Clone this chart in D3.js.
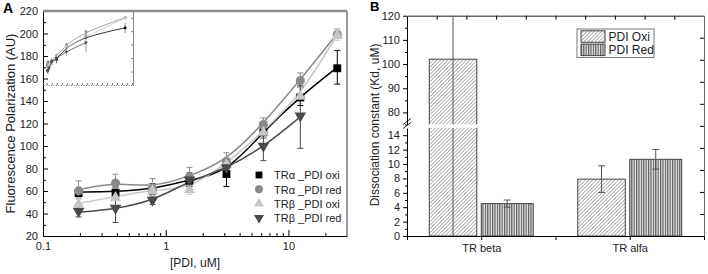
<!DOCTYPE html>
<html>
<head>
<meta charset="utf-8">
<script src="https://cdn.jsdelivr.net/npm/d3@7"></script>
<style>
  body { margin: 0; background: #fff; }
  svg { font-family: "Liberation Sans", Arial, sans-serif; }
  .tick text { font-size: 11px; fill: #222; }
</style>
</head>
<body>
<div id="chart"></div>
<script>
// Panel A: fluorescence polarization vs [PDI]
const conc = [0.195, 0.39, 0.78, 1.56, 3.125, 6.25, 12.5, 25];
const seriesNames = ["TR\u03b1 _PDI oxi", "TR\u03b1 _PDI red", "TR\u03b2 _PDI oxi", "TR\u03b2 _PDI red"];
const alphaOxi = [59, 59.5, 61.5, 70, 76, 113, 144, 170];
const alphaOxiErr = [3, 4, 5, 6, 12, 6, 8, 15];
const alphaRed = [61, 68, 63, 73, 87, 120, 159, 200];
const alphaRedErr = [8, 7, 8, 8, 7, 5, 6, 4];
const betaOxi = [49, 55, 61, 62, 84, 113, 145, 199];
const betaOxiErr = [5, 10, 5, 5, 6, 6, 7, 5];
const betaRed = [41, 44, 51, 69, 80, 99, 126];
const betaRedErr = [4, 12, 3, 5, 6, 12, 28];
const yTicksA = [20, 40, 60, 80, 100, 120, 140, 160, 180, 200, 220];
const xTicksA = [0.1, 1, 10];

// Panel B: dissociation constants
const groups = ["TR beta", "TR alfa"];
const kdOxi = [102, 7.9];
const kdOxiErr = [105, 1.85];
const kdRed = [4.5, 10.65];
const kdRedErr = [0.5, 1.37];
const barNames = ["PDI Oxi", "PDI Red"];

const svg = d3.select("#chart").append("svg")
  .attr("width", 708).attr("height", 274);

const defs = svg.append("defs");
const hatch = defs.append("pattern").attr("id", "hatch")
  .attr("patternUnits", "userSpaceOnUse").attr("width", 2.6).attr("height", 2.6)
  .attr("patternTransform", "rotate(45)");
hatch.append("rect").attr("width", 2.6).attr("height", 2.6).attr("fill", "#fff");
hatch.append("line").attr("x1", 0).attr("y1", 0).attr("x2", 0).attr("y2", 2.6)
  .attr("stroke", "#555").attr("stroke-width", 0.9);
const vert = defs.append("pattern").attr("id", "vert")
  .attr("patternUnits", "userSpaceOnUse").attr("width", 2.4).attr("height", 4);
vert.append("rect").attr("width", 2.4).attr("height", 4).attr("fill", "#e6e6e6");
vert.append("line").attr("x1", 0.6).attr("y1", 0).attr("x2", 0.6).attr("y2", 4)
  .attr("stroke", "#555").attr("stroke-width", 1.1);

// ---------- Panel A ----------
const xA = d3.scaleLog().domain([0.1, 30]).range([43, 347]);
const yA = d3.scaleLinear().domain([20, 220]).range([236, 11]);
const gA = svg.append("g");

const series = [
  { name: seriesNames[0], v: alphaOxi, e: alphaOxiErr, color: "#000", sym: d3.symbolSquare, size: 62, rot: 0 },
  { name: seriesNames[1], v: alphaRed, e: alphaRedErr, color: "#8a8a8a", sym: d3.symbolCircle, size: 66, rot: 0 },
  { name: seriesNames[2], v: betaOxi, e: betaOxiErr, color: "#c6c6c6", sym: d3.symbolTriangle, size: 58, rot: 0 },
  { name: seriesNames[3], v: betaRed, e: betaRedErr, color: "#4a4a4a", sym: d3.symbolTriangle, size: 58, rot: 180 }
];

// axes
gA.append("g").attr("transform", "translate(43,0)")
  .call(d3.axisLeft(yA).tickValues(d3.range(30, 220, 20)).tickSize(-3).tickFormat(""))
  .call(g => g.select(".domain").remove());
gA.append("g").attr("transform", "translate(43,0)")
  .call(d3.axisLeft(yA).tickValues(yTicksA).tickSizeInner(-5).tickSizeOuter(0).tickPadding(5));
const minorX = [0.2, 0.3, 0.4, 0.5, 0.6, 0.7, 0.8, 0.9, 2, 3, 4, 5, 6, 7, 8, 9, 20, 30];
gA.append("g").attr("transform", "translate(0,236)")
  .call(d3.axisBottom(xA).tickValues(minorX).tickSize(-3).tickFormat(""))
  .call(g => g.select(".domain").remove());
gA.append("g").attr("transform", "translate(0,236)")
  .call(d3.axisBottom(xA).tickValues(xTicksA).tickSizeInner(-6).tickSizeOuter(0).tickPadding(6).tickFormat(d3.format("")));
gA.append("line").attr("x1", 43).attr("x2", 347).attr("y1", 11).attr("y2", 11)
  .attr("stroke", "#8c8c8c").attr("stroke-width", 2.5);
gA.append("line").attr("x1", 347).attr("x2", 347).attr("y1", 11).attr("y2", 236)
  .attr("stroke", "#999").attr("stroke-width", 2);

// fitted lines (smoothed)
series.forEach(s => {
  const line = d3.line().x((d, i) => xA(conc[i])).y(d => yA(d)).curve(d3.curveBasis);
  gA.append("path").datum(s.v).attr("d", line)
    .attr("fill", "none").attr("stroke", s.color).attr("stroke-width", 1.5);
});
// error bars
series.forEach(s => {
  const eb = gA.append("g").attr("stroke", s.color).attr("stroke-width", 1);
  s.v.forEach((v, i) => {
    const x = xA(conc[i]);
    eb.append("line").attr("x1", x).attr("x2", x).attr("y1", yA(v - s.e[i])).attr("y2", yA(v + s.e[i]));
    [v - s.e[i], v + s.e[i]].forEach(w =>
      eb.append("line").attr("x1", x - 3).attr("x2", x + 3).attr("y1", yA(w)).attr("y2", yA(w)));
  });
});
// markers
series.forEach(s => {
  gA.append("g").selectAll("path").data(s.v).join("path")
    .attr("d", d3.symbol(s.sym, s.size))
    .attr("transform", (d, i) => `translate(${xA(conc[i])},${yA(d) + (s.rot ? -1 : 1)}) rotate(${s.rot})`)
    .attr("fill", s.color);
});

// legend A
series.forEach((s, i) => {
  const y = 175 + i * 14.3;
  gA.append("path").attr("d", d3.symbol(s.sym, s.size * 0.75))
    .attr("transform", `translate(259,${y}) rotate(${s.rot})`).attr("fill", s.color);
  gA.append("text").attr("x", 274).attr("y", y + 4.2).attr("font-size", 11).attr("fill", "#222").text(s.name);
});

// inset (linear concentration)
const xI = d3.scaleLinear().domain([-1.2, 27.5]).range([43, 133]);
const yI = d3.scaleLinear().domain([0, 220]).range([85, 11]);
const gI = gA.append("g");
gI.append("g").attr("transform", "translate(0,85)")
  .call(d3.axisBottom(xI).tickValues(d3.range(0, 28, 1.6)).tickSize(-2).tickFormat(""))
  .call(g => g.select(".domain").attr("stroke", "#777").attr("stroke-dasharray", "1,1.5"))
  .call(g => g.selectAll(".tick line").attr("stroke", "#777"));
gI.append("g").attr("transform", "translate(133,0)")
  .call(d3.axisRight(yI).tickValues([40, 80, 120, 160, 200]).tickSize(-2).tickSizeOuter(0).tickFormat(""))
  .call(g => g.selectAll("line,path").attr("stroke", "#888"));
series.forEach(s => {
  const line = d3.line().x((d, i) => xI(conc[i])).y(d => yI(d)).curve(d3.curveBasis);
  gI.append("path").datum(s.v).attr("d", line)
    .attr("fill", "none").attr("stroke", s.color).attr("stroke-width", 0.8);
  s.v.forEach((v, i) => {
    const x = xI(conc[i]);
    gI.append("line").attr("x1", x).attr("x2", x).attr("y1", yI(v - s.e[i])).attr("y2", yI(v + s.e[i]))
      .attr("stroke", s.color).attr("stroke-width", 0.5);
  });
  gI.append("g").selectAll("path").data(s.v).join("path")
    .attr("d", d3.symbol(s.sym, 6))
    .attr("transform", (d, i) => `translate(${xI(conc[i])},${yI(d)}) rotate(${s.rot})`)
    .attr("fill", s.color);
});

// titles A
svg.append("text").attr("x", 3).attr("y", 13).attr("font-size", 14).attr("font-weight", "bold").text("A");
svg.append("text").attr("transform", "translate(15,123.5) rotate(-90)").attr("text-anchor", "middle")
  .attr("font-size", 13).attr("fill", "#222").text("Fluorescence Polarization (AU)");
svg.append("text").attr("x", 195).attr("y", 267).attr("text-anchor", "middle")
  .attr("font-size", 12).attr("fill", "#222").text("[PDI, uM]");

// ---------- Panel B ----------
const xB = d3.scaleLinear().domain([0.5, 2.5]).range([407, 704]);
const yLow = d3.scaleLinear().domain([0, 15]).range([236, 128]);
const yHigh = d3.scaleLinear().domain([75, 120]).range([124.5, 15.7]);
const yB = v => v <= 15 ? yLow(v) : yHigh(Math.min(v, 120));
const yRight = d3.scaleLinear().domain([0, 10]).range([236, 15.7]);
const gB = svg.append("g");

// bars
groups.forEach((g, i) => {
  const c = i + 1;
  const bars = [
    { x0: c - 0.35, x1: c - 0.03, v: kdOxi[i], e: kdOxiErr[i], fill: "url(#hatch)" },
    { x0: c, x1: c + 0.35, v: kdRed[i], e: kdRedErr[i], fill: "url(#vert)" }
  ];
  bars.forEach(b => {
    gB.append("rect").attr("x", xB(b.x0)).attr("width", xB(b.x1) - xB(b.x0))
      .attr("y", yB(b.v)).attr("height", yB(0) - yB(b.v))
      .attr("fill", b.fill).attr("stroke", "#444").attr("stroke-width", 1);
    const xm = (xB(b.x0) + xB(b.x1)) / 2;
    const hi = Math.min(b.v + b.e, 120), lo = Math.max(b.v - b.e, 0);
    gB.append("line").attr("x1", xm).attr("x2", xm).attr("y1", yB(hi)).attr("y2", yB(lo))
      .attr("stroke", "#555").attr("stroke-width", 1);
    if (hi < 120) gB.append("line").attr("x1", xm - 3.5).attr("x2", xm + 3.5).attr("y1", yB(hi)).attr("y2", yB(hi)).attr("stroke", "#555");
    if (lo > 0) gB.append("line").attr("x1", xm - 3.5).attr("x2", xm + 3.5).attr("y1", yB(lo)).attr("y2", yB(lo)).attr("stroke", "#555");
    if (b.v > 15) {
      gB.append("rect").attr("x", xB(b.x0) - 1).attr("width", xB(b.x1) - xB(b.x0) + 2)
        .attr("y", 124.3).attr("height", 3.6).attr("fill", "#fff");
    }
  });
});

// axes B
gB.append("g").attr("transform", "translate(407,0)")
  .call(d3.axisLeft(yLow).tickValues(d3.range(1, 15, 2)).tickSize(2).tickFormat(""))
  .call(g => g.select(".domain").remove());
gB.append("g").attr("transform", "translate(407,0)")
  .call(d3.axisLeft(yLow).tickValues(d3.range(0, 15, 2)).tickSizeInner(4).tickSizeOuter(0).tickPadding(3));
gB.append("g").attr("transform", "translate(407,0)")
  .call(d3.axisLeft(yHigh).tickValues([75, 85, 95, 105, 115]).tickSize(2).tickFormat(""))
  .call(g => g.select(".domain").remove());
gB.append("g").attr("transform", "translate(407,0)")
  .call(d3.axisLeft(yHigh).tickValues([80, 90, 100, 110, 120]).tickSizeInner(4).tickSizeOuter(0).tickPadding(3));
// break marks
[121.5, 125.5].forEach(y =>
  gB.append("line").attr("x1", 403).attr("x2", 411).attr("y1", y + 3).attr("y2", y - 3)
    .attr("stroke", "#222").attr("stroke-width", 1));
gB.append("g").attr("transform", "translate(0,236)")
  .call(d3.axisBottom(xB).tickValues([0.5, 1, 1.5, 2, 2.5]).tickSizeInner(4).tickSizeOuter(0).tickPadding(4)
    .tickFormat(d => Number.isInteger(d) ? groups[d - 1] : ""));
gB.append("g").attr("transform", "translate(0,15.7)")
  .call(d3.axisTop(xB).tickValues(d3.range(0.7, 2.4, 0.2)).tickSize(-4).tickSizeOuter(0).tickFormat(""))
  .call(g => g.select(".domain").attr("stroke", "#666").attr("stroke-width", 1.5));
gB.append("g").attr("transform", "translate(704,0)")
  .call(d3.axisRight(yRight).tickValues(d3.range(1, 10)).tickSize(-4).tickSizeOuter(0).tickFormat(""))
  .call(g => g.select(".domain").attr("stroke", "#666"));

// legend B
const leg = gB.append("g");
leg.append("rect").attr("x", 577).attr("y", 29).attr("width", 77).attr("height", 28.5)
  .attr("fill", "#fff").attr("stroke", "#777").attr("stroke-width", 1);
barNames.forEach((n, i) => {
  const y = 30.8 + i * 13.3;
  leg.append("rect").attr("x", 581).attr("y", y).attr("width", 24).attr("height", 11.5)
    .attr("fill", i ? "url(#vert)" : "url(#hatch)").attr("stroke", "#444");
  leg.append("text").attr("x", 608.5).attr("y", y + 10).attr("font-size", 12).attr("fill", "#222").text(n);
});

// titles B
svg.append("text").attr("x", 370).attr("y", 11).attr("font-size", 13).attr("font-weight", "bold").text("B");
svg.append("text").attr("transform", "translate(379,125) rotate(-90)").attr("text-anchor", "middle")
  .attr("font-size", 12).attr("fill", "#222").text("Dissociation constant (Kd, uM)");
</script>
</body>
</html>
